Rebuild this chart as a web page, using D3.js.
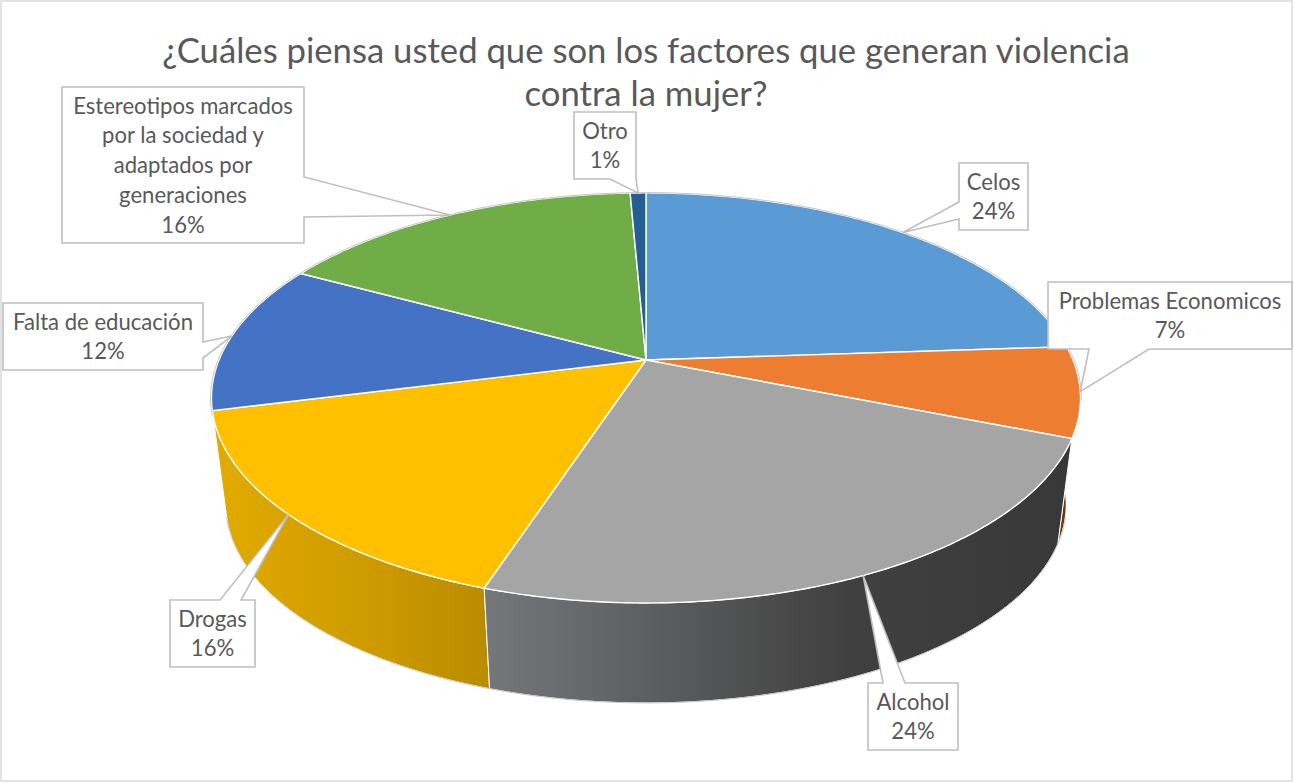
<!DOCTYPE html>
<html><head><meta charset="utf-8">
<script src="https://cdn.jsdelivr.net/npm/d3@7/dist/d3.min.js"></script>
<style>html,body{margin:0;padding:0;background:#fff}svg{display:block}text{font-family:Lato,"Open Sans",sans-serif;fill:#595959}</style>
</head><body><svg id="c" width="1294" height="783"></svg>
<script>
const titleLines = ["¿Cuáles piensa usted que son los factores que generan violencia", "contra la mujer?"];
const categories = ["Celos", "Problemas Economicos", "Alcohol", "Drogas", "Falta de educación", "Estereotipos marcados por la sociedad y adaptados por generaciones", "Otro"];
const values = [23.9, 7.1, 24, 16, 11.8, 16.4, 0.7];
const labelLines = [["Celos"], ["Problemas Economicos"], ["Alcohol"], ["Drogas"], ["Falta de educación"], ["Estereotipos marcados", "por la sociedad y", "adaptados por", "generaciones"], ["Otro"]];
const topColors = ["#5b9bd5", "#ed7d31", "#a5a5a5", "#ffc000", "#4472c4", "#70ad47", "#255e91"];
const sideFrom = ["#3a6a96", "#7a4214", "#75777a", "#e2ab00", "#2f5597", "#4e7a31", "#1a4266"];
const sideMid = ["#3a6a96", "#6a360f", "#404040", "#cb9900", "#2f5597", "#4e7a31", "#1a4266"];
const sideTo = ["#3a6a96", "#6a360f", "#383838", "#b98b00", "#2f5597", "#4e7a31", "#1a4266"];
// callout boxes: [x0, y0, x1, y1, tail edge, tail start, tail end]
const boxes = [
  [959, 163, 1028, 230, "left", 202, 219],
  [1048, 282, 1292, 349, "bottom", 1089, 1149],
  [868, 683, 958, 750, "top", 883, 905],
  [170, 600, 255, 667, "top", 220, 241],
  [3, 303, 203, 370, "right", 342, 358],
  [62, 87, 304, 243, "right", 177, 217],
  [574, 112, 636, 179, "bottom", 610, 636]
];

const svg = d3.select("#c");
svg.append("rect").attr("x", 1).attr("y", 1).attr("width", 1291).attr("height", 780)
  .attr("fill", "#fff").attr("stroke", "#d9d9d9").attr("stroke-width", 1.5);

titleLines.forEach((t, i) => svg.append("text").attr("x", 646).attr("y", 63 + i * 43)
  .attr("text-anchor", "middle").style("font-size", "34.7px").text(t));

// perspective projection of the pie disc
const K = 0.185, A = 198, B = 427;
const zScale = d3.scaleLinear().domain([0, 1]).range([360, 468]);
const sScale = d3.scaleLinear().domain([0, 1]).range([1, 0.967]);
function project(t, r, z) {
  const u = r * Math.sin(t), v = -r * Math.cos(t), w = 1 - K * v, s = sScale(z);
  return [646 + s * B * u / w, zScale(z) + s * A * v / w];
}
const pie = d3.pie().sort(null).value(d => d)(values);
const line = d3.line();
const arcAngles = d => {
  const n = Math.max(2, Math.ceil((d.endAngle - d.startAngle) / 0.01));
  return d3.range(n + 1).map(i => d.startAngle + (d.endAngle - d.startAngle) * i / n);
};
const midAngle = d => (d.startAngle + d.endAngle) / 2;

const defs = svg.append("defs");
const gPie = svg.append("g");

// side walls of the slices that face the viewer, back to front
const order = pie.map((d, i) => i).filter(i => Math.cos(midAngle(pie[i])) < 0)
  .sort((a, b) => Math.cos(midAngle(pie[b])) - Math.cos(midAngle(pie[a])));
order.forEach(i => {
  const d = pie[i], ts = arcAngles(d);
  const top = ts.map(t => project(t, 1, 0)), bot = ts.map(t => project(t, 1, 1)).reverse();
  const ext = d3.extent(top.concat(bot), p => p[0]);
  const g = defs.append("linearGradient").attr("id", "s" + i).attr("gradientUnits", "userSpaceOnUse")
    .attr("x1", ext[0]).attr("x2", ext[1]).attr("y1", 0).attr("y2", 0);
  g.append("stop").attr("offset", 0).attr("stop-color", sideFrom[i]);
  g.append("stop").attr("offset", 0.62).attr("stop-color", sideMid[i]);
  g.append("stop").attr("offset", 1).attr("stop-color", sideTo[i]);
  gPie.append("path").attr("d", line(top.concat(bot)) + "Z").attr("fill", `url(#s${i})`)
    .attr("stroke", "#fff").attr("stroke-width", 1).attr("stroke-linejoin", "round");
});
// bottom outline
const whole = {startAngle: Math.PI / 2 + 0.25, endAngle: pie[3].endAngle};
gPie.append("path").attr("d", line(arcAngles(whole).map(t => project(t, 1, 1))))
  .attr("fill", "none").attr("stroke", "#c8c8c8").attr("stroke-width", 1);

// top faces
pie.forEach((d, i) => {
  const pts = [project(0, 0, 0)].concat(arcAngles(d).map(t => project(t, 1, 0)));
  gPie.append("path").attr("d", line(pts) + "Z").attr("fill", topColors[i])
    .attr("stroke", "#fff").attr("stroke-width", 1.4).attr("stroke-linejoin", "round");
});
// rim outline on the back half
const rim = {startAngle: -Math.PI / 2 - 0.27, endAngle: Math.PI / 2 + 0.2};
gPie.append("path").attr("d", line(arcAngles(rim).map(t => project(t, 1.002, 0))))
  .attr("fill", "none").attr("stroke", "#c4c4c4").attr("stroke-width", 1);

// callouts
pie.forEach((d, i) => {
  const [x0, y0, x1, y1, edge, a, b] = boxes[i];
  const tip = project(midAngle(d), 1, 0);
  const p = [[x0, y0]];
  if (edge === "top") p.push([a, y0], tip, [b, y0]);
  p.push([x1, y0]);
  if (edge === "right") p.push([x1, a], tip, [x1, b]);
  p.push([x1, y1]);
  if (edge === "bottom") p.push([b, y1], tip, [a, y1]);
  p.push([x0, y1]);
  if (edge === "left") p.push([x0, b], tip, [x0, a]);
  svg.append("path").attr("d", line(p) + "Z").attr("fill", "#fff")
    .attr("stroke", "#bfbfbf").attr("stroke-width", 1.6);
  const lines = labelLines[i].concat([Math.round(d.data) + "%"]);
  lines.forEach((t, j) => svg.append("text").attr("x", (x0 + x1) / 2).attr("y", y0 + 26.5 + j * 29.8)
    .attr("text-anchor", "middle").style("font-size", "22.1px").text(t));
});
</script></body></html>
